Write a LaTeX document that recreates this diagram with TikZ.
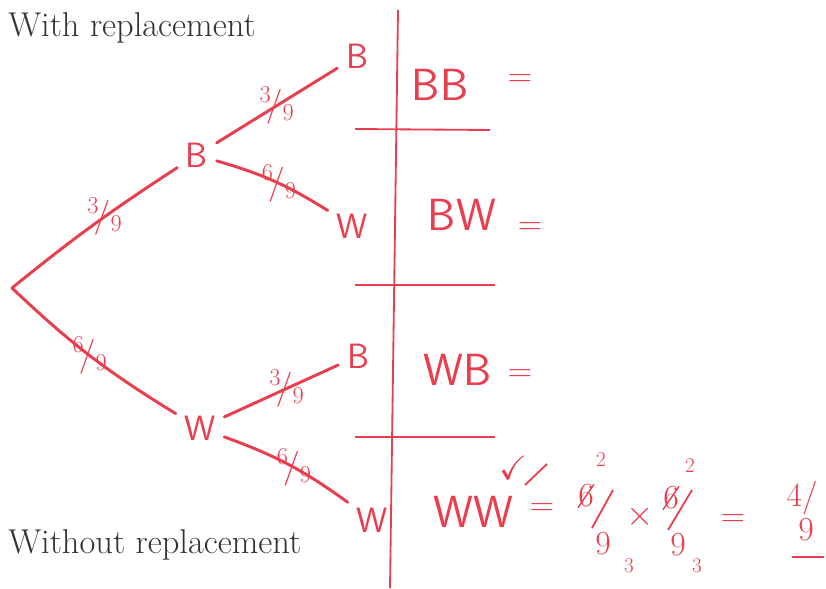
\documentclass[tikz,border=0pt]{standalone}
\usepackage{amssymb}
\usetikzlibrary{positioning}
\definecolor{pen}{RGB}{232,62,78}
\tikzset{
  branch/.style={draw=pen, line width=2.1pt, line cap=round},
  rulepen/.style={draw=pen, line width=1.3pt},
  strike/.style={draw=pen, line width=1pt},
  outcome/.style={text=pen, font=\sffamily\fontsize{25}{25}\selectfont, inner sep=6pt},
  prob/.style={text=pen, font=\fontsize{24}{24}\selectfont, inner sep=1pt},
  pair/.style={text=pen, font=\sffamily\fontsize{32}{32}\selectfont, inner sep=0pt},
  pennum/.style={text=pen, font=\fontsize{24}{24}\selectfont, inner sep=0pt},
  pensmall/.style={text=pen, font=\fontsize{15}{15}\selectfont, inner sep=0pt},
  heading/.style={text=black!80, font=\fontsize{24.5}{28}\selectfont, anchor=west, inner sep=0pt}
}
\begin{document}
\begin{tikzpicture}[x=0.025cm, y=0.025cm]
\useasboundingbox (0,0) rectangle (826,588);

% headings
\node[heading] (with) at (8,560) {With replacement};
\node[heading] (without) at (8,43) {Without replacement};

% tree
\coordinate (root) at (12,300);
\node[outcome] (b1) at (197,433) {B};
\node[outcome] (w1) at (200,160) {W};
\node[outcome] (bb) at (357,532) {B};
\node[outcome] (bw) at (352,362) {W};
\node[outcome] (wb) at (358,232) {B};
\node[outcome] (ww) at (372,68) {W};

\draw[branch] (root) to[bend left=3] node[prob,pos=.58]{$^3\!/_9$} (b1);
\draw[branch] (root) to[bend right=6] node[prob,pos=.5]{$^6\!/_9$} (w1);
\draw[branch] (b1) -- node[prob,pos=.5]{$^3\!/_9$} (bb);
\draw[branch] (b1) to[bend left=8] node[prob,pos=.55]{$^6\!/_9$} (bw);
\draw[branch] (w1) -- node[prob,pos=.55]{$^3\!/_9$} (wb);
\draw[branch] (w1) to[bend left=8] node[prob,pos=.55]{$^6\!/_9$} (ww);

% table rules
\draw[rulepen] (398,578) -- (390,0);
\draw[rulepen] (355,459) -- (490,458);
\draw[rulepen] (355,303) -- (495,303);
\draw[rulepen] (355,151) -- (495,151);

% outcomes
\node[pair] (pbb) at (440,503) {BB};
\node[pennum] (eqbb) at (520,508) {=};
\node[pair] (pbw) at (462,373) {BW};
\node[pennum] (eqbw) at (530,360) {=};
\node[pair] (pwb) at (458,218) {WB};
\node[pennum] (eqwb) at (520,213) {=};
\node[pair] (pww) at (473,76) {WW};
\node[pennum] (tick) at (514,120) {$\checkmark$};
\draw[rulepen] (525,103) -- (547,124);
\node[pennum] (eqww) at (542,79) {=};

% 6/9 x 6/9 = 4/9
\node[pennum] (n1) at (586,92) {6};
\draw[strike] (n1.south west) -- (n1.north east);
\node[pensmall] (c1) at (601,128) {2};
\draw[rulepen] (613,98) -- (592,60);
\node[pennum] (d1) at (603,44) {9};
\node[pensmall] (e1) at (629,22) {3};
\node[pennum] (times) at (640,71) {$\times$};
\node[pennum] (n2) at (671,90) {6};
\draw[strike] (n2.south west) -- (n2.north east);
\node[pensmall] (c2) at (690,122) {2};
\draw[rulepen] (692,98) -- (668,58);
\node[pennum] (d2) at (678,43) {9};
\node[pensmall] (e2) at (697,22) {3};
\node[pennum] (eqres) at (733,68) {=};
\node[pennum] (res) at (802,90) {4/};
\node[pennum] (resd) at (806,58) {9};
\draw[rulepen] (792,31) -- (824,31);
\end{tikzpicture}
\end{document}
